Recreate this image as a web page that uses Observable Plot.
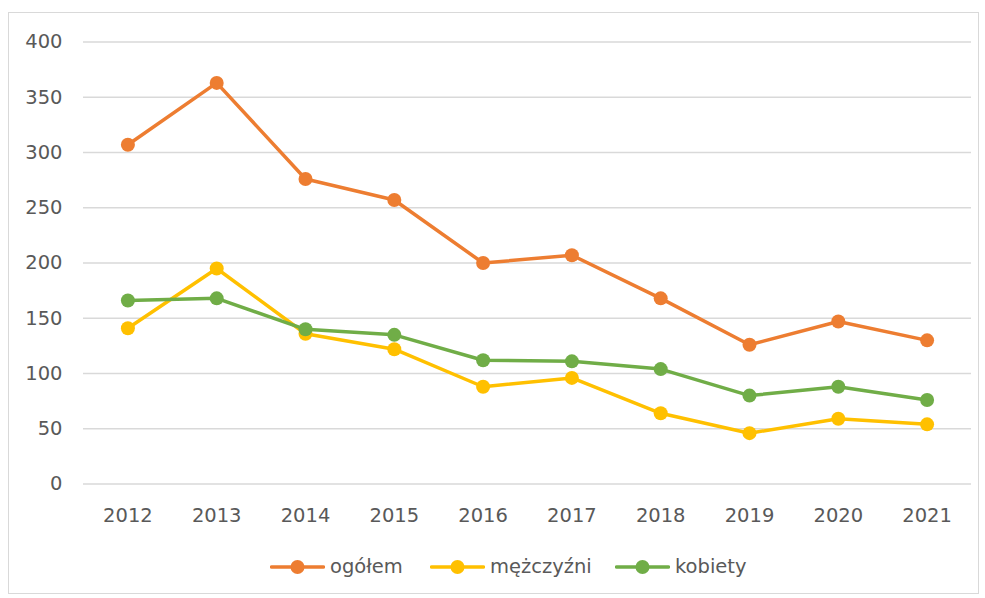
<!DOCTYPE html>
<html>
<head>
<meta charset="utf-8">
<script src="https://cdn.jsdelivr.net/npm/d3@7"></script>
<script src="https://cdn.jsdelivr.net/npm/@observablehq/plot@0.6"></script>
<style>
  html, body { margin: 0; padding: 0; background: #fff; }
  #frame { position: absolute; left: 8px; top: 12px; width: 971px; height: 582px; border: 1px solid #d9d9d9; box-sizing: border-box; }
  #chart { position: absolute; left: 0; top: 0; }
  #legend { position: absolute; left: 0; top: 542px; width: 100%; height: 26px; }
  .item { position: absolute; top: 0; display: flex; align-items: center; font-family: "DejaVu Sans", sans-serif; font-size: 19.5px; color: #595959; }
  .item svg { margin-right: 5px; }
</style>
</head>
<body>
<div id="frame">
  <div id="chart"></div>
  <div id="legend"></div>
</div>
<script>
const years = ["2012","2013","2014","2015","2016","2017","2018","2019","2020","2021"];
const ogolem = [307, 363, 276, 257, 200, 207, 168, 126, 147, 130];
const mezczyzni = [141, 195, 136, 122, 88, 96, 64, 46, 59, 54];
const kobiety = [166, 168, 140, 135, 112, 111, 104, 80, 88, 76];
const seriesNames = ["ogółem", "mężczyźni", "kobiety"];
const seriesColors = ["#ED7D31", "#FFC000", "#70AD47"];
const yTicks = [0, 50, 100, 150, 200, 250, 300, 350, 400];

const seriesValues = [ogolem, mezczyzni, kobiety];
const data = [];
seriesNames.forEach((name, si) => {
  years.forEach((yr, i) => data.push({series: name, year: yr, value: seriesValues[si][i]}));
});

const chart = Plot.plot({
  width: 969,
  height: 530,
  marginLeft: 74,
  marginRight: 7,
  marginTop: 28.5,
  marginBottom: 59.5,
  style: { fontFamily: "DejaVu Sans, sans-serif", fontSize: "19.5px", color: "#595959", background: "transparent" },
  x: { type: "point", domain: years, padding: 0.5, round: false, label: null, tickSize: 0, tickPadding: 24 },
  y: { domain: [0, 400], ticks: yTicks, label: null, tickSize: 0, tickPadding: 21 },
  color: { domain: seriesNames, range: seriesColors },
  marks: [
    Plot.gridY(yTicks, { stroke: "#d9d9d9", strokeOpacity: 1, strokeWidth: 1.3 }),
    Plot.axisY({ ticks: yTicks, tickSize: 0, tickPadding: 21, fill: "#595959" }),
    Plot.axisX({ tickSize: 0, tickPadding: 24, fill: "#595959" }),
    Plot.line(data, { x: "year", y: "value", z: "series", stroke: "series", strokeWidth: 3.5, strokeLinejoin: "round", strokeLinecap: "round" }),
    Plot.dot(data, { x: "year", y: "value", fill: "series", r: 7, stroke: "none" })
  ]
});
document.getElementById("chart").appendChild(chart);

const legendX = [261, 421, 606];
const legend = document.getElementById("legend");
seriesNames.forEach((name, i) => {
  const div = document.createElement("div");
  div.className = "item";
  div.style.left = legendX[i] + "px";
  div.innerHTML = `<svg width="55" height="16"><line x1="1.5" y1="8" x2="53.5" y2="8" stroke="${seriesColors[i]}" stroke-width="3.5" stroke-linecap="round"/><circle cx="27.5" cy="8" r="7" fill="${seriesColors[i]}"/></svg><span>${name}</span>`;
  legend.appendChild(div);
});
</script>
</body>
</html>
